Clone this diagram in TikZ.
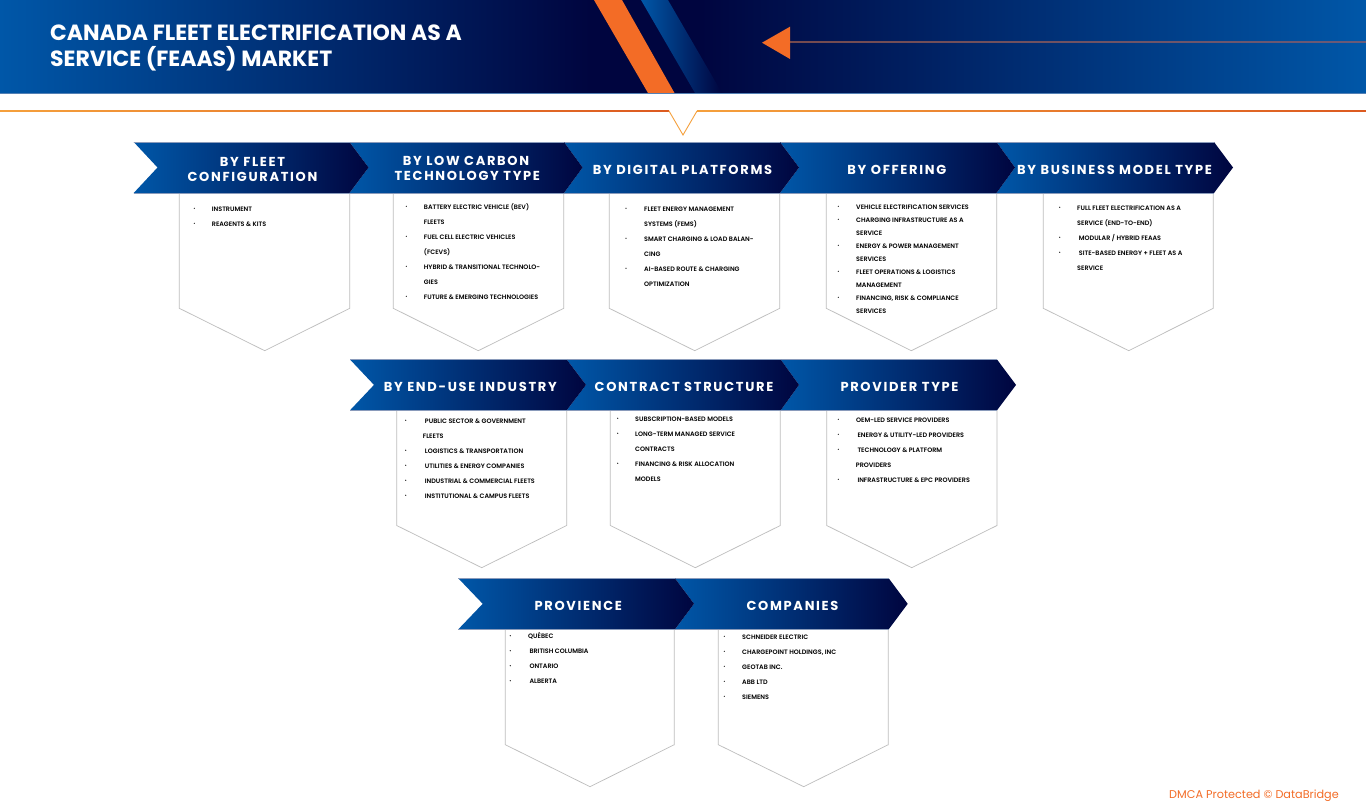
\documentclass[tikz,border=0pt]{standalone}
\usepackage{fontspec}
\setmainfont{Poppins}
\newfontfamily\hdfont{Poppins}[LetterSpace=13]
\newfontfamily\lifont{Poppins SemiBold}
\usetikzlibrary{calc}
\definecolor{bl}{HTML}{0057A8}
\definecolor{nv}{HTML}{00053F}
\definecolor{org}{HTML}{F36C26}
\definecolor{pgl}{HTML}{BDBDBD}
\definecolor{edgeb}{HTML}{8A9BBB}
\definecolor{ruleA}{HTML}{F5A03C}
\definecolor{ruleB}{HTML}{DC5A20}
\definecolor{lineA}{HTML}{754A4E}
\definecolor{lineB}{HTML}{6A5A78}
\newcount\nodecnt
\tikzset{
  panelbox/.style={draw=pgl,line width=0.7pt,fill=white,line join=miter},
  chevbox/.style={left color=bl,right color=nv,draw=none},
  headtxt/.style={anchor=base,inner sep=0pt,text=white,font=\hdfont\bfseries\fontsize{13}{15}\selectfont},
  listtxt/.style={anchor=base west,inner sep=0pt,text=black,font=\lifont\fontsize{6.4}{8}\selectfont},
  dotmark/.style={fill=black,draw=none,circle,inner sep=0pt,minimum size=1.2pt},
  titletxt/.style={anchor=base west,inner sep=0pt,text=white,font=\bfseries\fontsize{22}{24}\selectfont}
}
% left, notch, right, tip, top, bottom
\newcommand\chevshape[6]{%
  \path[chevbox] (#1,#5) -- (#3,#5) -- (#4,{(#5+#6)/2}) -- (#3,#6) -- (#1,#6) -- (#2,{(#5+#6)/2}) -- cycle;
  \draw[edgeb,line width=0.5pt] (#1,#5) -- (#3,#5);
  \draw[edgeb,line width=0.5pt] (#1,#6) -- (#3,#6);
}
% left, right, top, side, tipx, tipy
\newcommand\panelshape[6]{%
  \path[panelbox] (#1,#3) -- (#1,#4) -- (#5,#6) -- (#2,#4) -- (#2,#3);
}
\newcommand\head[3]{\global\advance\nodecnt by 1 \node[headtxt] (n\the\nodecnt) at (#1,#2+4.9) {#3};}
\newcommand\itm[3]{\global\advance\nodecnt by 1 \node[listtxt] (n\the\nodecnt) at (#1,#2+2.8) {#3};}
\newcommand\dotm[2]{\global\advance\nodecnt by 1 \node[dotmark] (n\the\nodecnt) at (#1,#2) {};}
\begin{document}
\begin{tikzpicture}[x=1pt,y=-1pt]
\useasboundingbox (0,0) rectangle (1366,808);
\fill[white] (0,0) rectangle (1366,808);
% banner
\shade[left color=bl,right color=nv] (0,0) rectangle (590,93);
\fill[nv] (589.5,0) rectangle (700.5,93);
\shade[left color=nv,right color=bl] (700,0) rectangle (1366,93);
\fill[edgeb!60!bl] (0,93) rectangle (1366,94);
\fill[org] (594,0) -- (622,0) -- (674.5,93) -- (648,93) -- cycle;
\shade[left color=bl,right color=nv] (641,0) -- (668,0) -- (722,93) -- (695,93) -- cycle;
\shade[left color=lineA,right color=lineB] (790,41.4) rectangle (1366,42.7);
\fill[org] (762,42.7) -- (790,26.7) -- (790,59) -- cycle;
\node[titletxt] (title1) at (50,40.3) {CANADA FLEET ELECTRIFICATION AS A};
\node[titletxt] (title2) at (50,66.3) {SERVICE (FEAAS) MARKET};
% rule with V
\shade[left color=ruleA,right color=ruleB] (0,110.9) rectangle (669,111.8);
\shade[left color=ruleA,right color=ruleB] (697,110.9) rectangle (1366,111.8);
\draw[color=ruleA,line width=0.9pt] (669,111) -- (683,135) -- (697,111);
% panels
\panelshape{179.3}{349.7}{193}{308.3}{264.7}{350.7}
\panelshape{393.3}{563.7}{193}{308.3}{478.3}{350.7}
\panelshape{609.3}{779.7}{193}{308.3}{694.7}{350.7}
\panelshape{826.3}{996.7}{193}{308.3}{911.3}{350.7}
\panelshape{1043.3}{1213.3}{193}{308.3}{1128.7}{350.7}
\panelshape{396.7}{566.7}{410}{525.5}{481.7}{567.7}
\panelshape{610.3}{780.3}{410}{525.5}{695.3}{567.7}
\panelshape{826.7}{997}{410}{525.5}{911.7}{567.7}
\panelshape{505.3}{674.3}{629}{744.7}{590}{786.7}
\panelshape{718.3}{888.3}{629}{744.7}{803.7}{786.7}
% chevrons row 1 (drawn right to left so each tip lies on the next)
\chevshape{996.5}{1015}{1214}{1233}{142}{193}
\chevshape{780}{799}{996.5}{1015}{142}{193}
\chevshape{564}{582.6}{780}{799}{142}{193}
\chevshape{349.5}{368.5}{564}{582.6}{142}{193}
\chevshape{133.7}{157.5}{349.5}{368.5}{142}{193}
% row 2
\chevshape{780.7}{799}{997}{1016}{359.5}{410.3}
\chevshape{566.7}{586}{780.7}{799}{359.5}{410.3}
\chevshape{350}{374}{566.7}{586}{359.5}{410.3}
% row 3
\chevshape{675}{694}{888.7}{907.7}{578.3}{629.3}
\chevshape{458.3}{482.7}{675}{694}{578.3}{629.3}
% headings
\head{252.5}{161.7}{BY FLEET}
\head{252.5}{176.7}{CONFIGURATION}
\head{466}{161}{BY LOW CARBON}
\head{467.3}{175.3}{TECHNOLOGY TYPE}
\head{682.5}{169.7}{BY DIGITAL PLATFORMS}
\head{896.8}{169.7}{BY OFFERING}
\head{1114.5}{169.7}{BY BUSINESS MODEL TYPE}
\head{470.3}{386.3}{BY END-USE INDUSTRY}
\head{684}{386.3}{CONTRACT STRUCTURE}
\head{899.5}{386.3}{PROVIDER TYPE}
\head{578.3}{605.3}{PROVIENCE}
\head{792.5}{605.3}{COMPANIES}
% P1
\dotm{194.3}{208.3}\itm{211.7}{208.3}{INSTRUMENT}
\dotm{194.3}{223.3}\itm{211.7}{223.3}{REAGENTS \& KITS}
% P2
\dotm{406.3}{206.3}\itm{423.7}{206.3}{BATTERY ELECTRIC VEHICLE (BEV)}
\itm{423.7}{221.3}{FLEETS}
\dotm{406.3}{236.3}\itm{423.7}{236.3}{FUEL CELL ELECTRIC VEHICLES}
\itm{423.7}{251.3}{(FCEVS)}
\dotm{406.3}{266.3}\itm{423.7}{266.3}{HYBRID \& TRANSITIONAL TECHNOLO-}
\itm{423.7}{281.3}{GIES}
\dotm{406.3}{296.3}\itm{423.7}{296.3}{FUTURE \& EMERGING TECHNOLOGIES}
% P3
\dotm{626}{208.3}\itm{644}{208.3}{FLEET ENERGY MANAGEMENT}
\itm{644}{223.3}{SYSTEMS (FEMS)}
\dotm{626}{238.3}\itm{644}{238.3}{SMART CHARGING \& LOAD BALAN-}
\itm{644}{253.3}{CING}
\dotm{626}{268.3}\itm{644}{268.3}{AI-BASED ROUTE \& CHARGING}
\itm{644}{283.3}{OPTIMIZATION}
% P4
\dotm{838.3}{206.3}\itm{856}{206.3}{VEHICLE ELECTRIFICATION SERVICES}
\dotm{838.3}{219.3}\itm{856}{219.3}{CHARGING INFRASTRUCTURE AS A}
\itm{856}{232.3}{SERVICE}
\dotm{838.3}{245.3}\itm{856}{245.3}{ENERGY \& POWER MANAGEMENT}
\itm{856}{258.3}{SERVICES}
\dotm{838.3}{271.3}\itm{856}{271.3}{FLEET OPERATIONS \& LOGISTICS}
\itm{856}{284.3}{MANAGEMENT}
\dotm{838.3}{297.3}\itm{856}{297.3}{FINANCING, RISK \& COMPLIANCE}
\itm{856}{310.3}{SERVICES}
% P5
\dotm{1059.7}{207.3}\itm{1077}{207.3}{FULL FLEET ELECTRIFICATION AS A}
\itm{1077}{222.3}{SERVICE (END-TO-END)}
\dotm{1059.7}{237.3}\itm{1078.7}{237.3}{MODULAR / HYBRID FEAAS}
\dotm{1059.7}{252.3}\itm{1078.7}{252.3}{SITE-BASED ENERGY + FLEET AS A}
\itm{1077}{267.3}{SERVICE}
% P6
\dotm{405.7}{420.3}\itm{424.7}{420.3}{PUBLIC SECTOR \& GOVERNMENT}
\itm{422.7}{435.3}{FLEETS}
\dotm{405.7}{450.3}\itm{424.7}{450.3}{LOGISTICS \& TRANSPORTATION}
\dotm{405.7}{465.3}\itm{424.7}{465.3}{UTILITIES \& ENERGY COMPANIES}
\dotm{405.7}{480.3}\itm{424.7}{480.3}{INDUSTRIAL \& COMMERCIAL FLEETS}
\dotm{405.7}{495.3}\itm{424.7}{495.3}{INSTITUTIONAL \& CAMPUS FLEETS}
% P7
\dotm{617.7}{418.3}\itm{635}{418.3}{SUBSCRIPTION-BASED MODELS}
\dotm{617.7}{433.3}\itm{635}{433.3}{LONG-TERM MANAGED SERVICE}
\itm{635}{448.3}{CONTRACTS}
\dotm{617.7}{463.3}\itm{635}{463.3}{FINANCING \& RISK ALLOCATION}
\itm{635}{478.3}{MODELS}
% P8
\dotm{838.3}{419.3}\itm{856}{419.3}{OEM-LED SERVICE PROVIDERS}
\dotm{838.3}{434.3}\itm{857.3}{434.3}{ENERGY \& UTILITY-LED PROVIDERS}
\dotm{838.3}{449.3}\itm{857.3}{449.3}{TECHNOLOGY \& PLATFORM}
\itm{855.7}{464.3}{PROVIDERS}
\dotm{838.3}{479.3}\itm{857.3}{479.3}{INFRASTRUCTURE \& EPC PROVIDERS}
% P9
\dotm{510.3}{635.7}\itm{528}{635.7}{QUÉBEC}
\dotm{510.3}{650.7}\itm{529.3}{650.7}{BRITISH COLUMBIA}
\dotm{510.3}{665.7}\itm{529.3}{665.7}{ONTARIO}
\dotm{510.3}{680.7}\itm{529.3}{680.7}{ALBERTA}
% P10
\dotm{724.3}{636.3}\itm{742}{636.3}{SCHNEIDER ELECTRIC}
\dotm{724.3}{651.3}\itm{742}{651.3}{CHARGEPOINT HOLDINGS, INC}
\dotm{724.3}{666.3}\itm{742}{666.3}{GEOTAB INC.}
\dotm{724.3}{681.3}\itm{742}{681.3}{ABB LTD}
\dotm{724.3}{696.3}\itm{742}{696.3}{SIEMENS}
% watermark
\node[anchor=base east,inner sep=0pt,text=org,font=\fontsize{11.25}{13}\selectfont] (dmca) at (1339,798) {DMCA Protected © DataBridge};
\end{tikzpicture}
\end{document}
